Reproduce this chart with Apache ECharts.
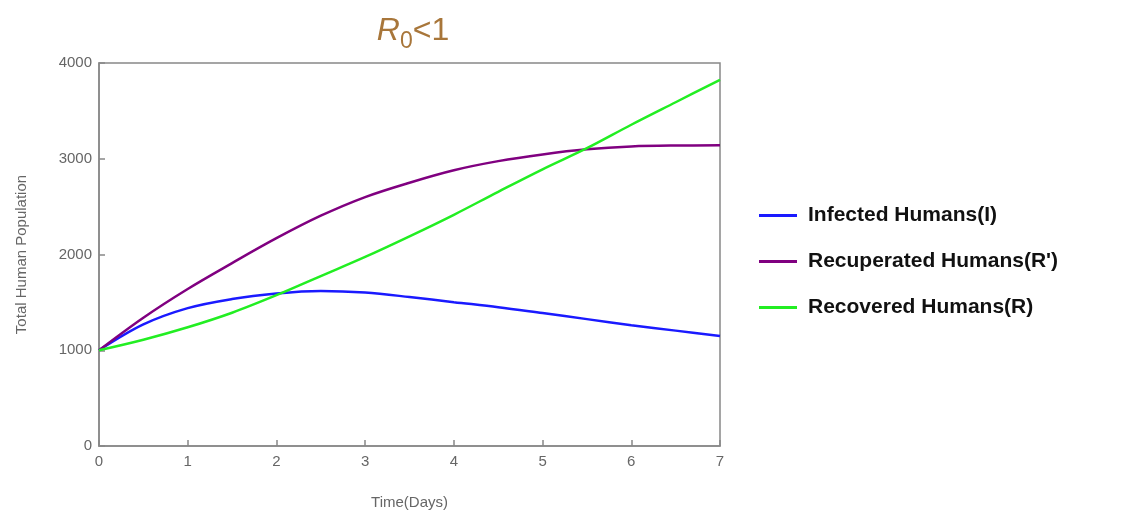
<!DOCTYPE html>
<html>
<head>
<meta charset="utf-8">
<script src="https://cdn.jsdelivr.net/npm/echarts@6/dist/echarts.min.js"></script>
<style>html,body{margin:0;padding:0;background:#fff;}#c{width:1127px;height:521px;}</style>
</head>
<body>
<div id="c"></div>
<script>
const days = [0, 0.5, 1, 1.5, 2, 2.5, 3, 3.5, 4, 4.5, 5, 5.5, 6, 6.5, 7];
const infected =    [1000, 1270, 1440, 1535, 1592, 1618, 1602, 1556, 1502, 1450, 1388, 1325, 1262, 1205, 1150];
const recuperated = [1000, 1340, 1640, 1910, 2170, 2405, 2600, 2750, 2880, 2975, 3045, 3098, 3128, 3138, 3140];
const recovered =   [1000, 1110, 1240, 1392, 1575, 1775, 1975, 2190, 2415, 2655, 2890, 3110, 3355, 3590, 3824];
const yTicks = ['0', '1000', '2000', '3000', '4000'];
const seriesNames = ['Infected Humans(I)', "Recuperated Humans(R')", 'Recovered Humans(R)'];
const colors = ['#1a1aff', '#800080', '#22ee22'];

const pairs = arr => days.map((d, i) => [d, arr[i]]);
const chart = echarts.init(document.getElementById('c'));
chart.setOption({
  animation: false,
  backgroundColor: '#fff',
  title: {
    text: '{r|R}{s|0}{n|<1}',
    left: 408, top: 5, textAlign: 'center',
    textStyle: {
      fontWeight: 'normal',
      rich: {
        r: { fontFamily: 'Liberation Sans, Arial', fontStyle: 'italic', fontWeight: 'normal', fontSize: 32, color: '#a8763a' },
        s: { fontFamily: 'Liberation Sans, Arial', fontWeight: 'normal', fontSize: 23, color: '#a8763a', padding: [20, 0, 0, 0] },
        n: { fontFamily: 'Liberation Sans, Arial', fontWeight: 'normal', fontSize: 32, color: '#a8763a' }
      }
    }
  },
  grid: { left: 99, right: 407, top: 63, bottom: 75, show: true, borderColor: '#888', borderWidth: 1.5, backgroundColor: 'transparent' },
  legend: {
    orient: 'vertical', left: 754, top: 200, itemGap: 25,
    itemWidth: 38, itemHeight: 3, icon: 'rect',
    data: seriesNames,
    textStyle: { fontFamily: 'Liberation Sans, Arial', fontWeight: 'bold', fontSize: 21, color: '#111', padding: [0, 0, 0, 6] }
  },
  xAxis: {
    type: 'value', min: 0, max: 7, interval: 1,
    name: 'Time(Days)', nameLocation: 'middle', nameGap: 49,
    nameTextStyle: { fontFamily: 'Liberation Sans, Arial', fontSize: 15, color: '#666' },
    axisLine: { show: true, lineStyle: { color: '#888', width: 1.5 } },
    axisTick: { show: true, inside: true, length: 6, lineStyle: { color: '#888', width: 1.5 } },
    axisLabel: { fontFamily: 'Liberation Sans, Arial', fontSize: 15, color: '#666', margin: 8 },
    splitLine: { show: false }
  },
  yAxis: {
    type: 'value', min: 0, max: 4000, interval: 1000,
    name: 'Total Human Population', nameLocation: 'middle', nameGap: 70, nameRotate: 90,
    nameTextStyle: { fontFamily: 'Liberation Sans, Arial', fontSize: 15, color: '#666' },
    axisLine: { show: true, lineStyle: { color: '#888', width: 1.5 } },
    axisTick: { show: true, inside: true, length: 6, lineStyle: { color: '#888', width: 1.5 } },
    axisLabel: { fontFamily: 'Liberation Sans, Arial', fontSize: 15, color: '#666', margin: 7,
      formatter: v => yTicks[Math.round(v / 1000)] },
    splitLine: { show: false }
  },
  series: [
    { name: seriesNames[0], type: 'line', data: pairs(infected), smooth: 0.35, showSymbol: false, lineStyle: { width: 2.5, color: colors[0] }, itemStyle: { color: colors[0] } },
    { name: seriesNames[1], type: 'line', data: pairs(recuperated), smooth: 0.35, showSymbol: false, lineStyle: { width: 2.5, color: colors[1] }, itemStyle: { color: colors[1] } },
    { name: seriesNames[2], type: 'line', data: pairs(recovered), smooth: 0.35, showSymbol: false, lineStyle: { width: 2.5, color: colors[2] }, itemStyle: { color: colors[2] } }
  ]
});
</script>
</body>
</html>
